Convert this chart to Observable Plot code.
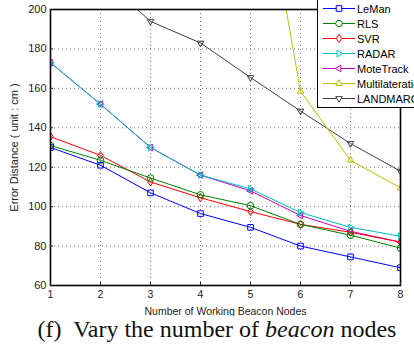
<!DOCTYPE html>
<html>
<head>
<meta charset="utf-8">
<script src="https://cdn.jsdelivr.net/npm/d3@7"></script>
<script src="https://cdn.jsdelivr.net/npm/@observablehq/plot@0.6"></script>
<style>
  html, body { margin: 0; padding: 0; background: white; }
  body { width: 414px; height: 347px; overflow: hidden; position: relative; }
  #chart { position: absolute; left: 0; top: 0; }
  #legend { position: absolute; left: 317px; top: -1px; width: 110px; border: 1px solid black; background: white;
    font-family: "Liberation Sans", Arial, sans-serif; font-size: 11px; padding: 1px 0 1px 0; }
  #legend .row { height: 15px; display: flex; align-items: center; white-space: nowrap; }
  #legend svg { flex: none; }
  #caption { position: absolute; left: 0; top: 316px; width: 434px; text-align: center; line-height: 1.15;
    font-family: "Liberation Serif", "Times New Roman", serif; font-size: 24px; color: #111; white-space: nowrap; }
</style>
</head>
<body>
<div id="chart"></div>
<div id="legend"></div>
<div id="caption">(f)&nbsp; Vary the number of <i>beacon</i> nodes</div>
<script>
// ---- data ----
const beacons = [1, 2, 3, 4, 5, 6, 7, 8];
const leman = [130, 121, 107, 96.5, 89.5, 80, 74.5, 69];
const rls = [131, 123.5, 114.5, 106, 100.5, 91, 85.5, 79];
const svr = [135.5, 126, 112.5, 104.5, 97.5, 91, 87, 82];
const radar = [173, 152, 130, 116, 109, 97, 89.5, 85];
const motetrack = [173, 152, 130, 116, 108, 95.5, 87.5, 82];
const multiBeacons = [5, 6, 7, 8];
const multilateration = [303, 158.5, 123.5, 109.5];
const landmarcBeacons = [2, 3, 4, 5, 6, 7, 8];
const landmarc = [217, 194, 183, 165.5, 148.5, 132, 118];
const xTicks = [1, 2, 3, 4, 5, 6, 7, 8];
const yTicks = [60, 80, 100, 120, 140, 160, 180, 200];
const seriesNames = ["LeMan", "RLS", "SVR", "RADAR", "MoteTrack", "Multilateration", "LANDMARC"];
const seriesColors = ["#0000ff", "#008000", "#ff0000", "#00bfbf", "#bf00bf", "#bfbf00", "#404040"];

// ---- symbols ----
function tri(angle) {
  return {draw(ctx, size) {
    const r = Math.sqrt(size / Math.PI) * 1.15;
    for (let i = 0; i < 3; i++) {
      const a = angle + i * 2 * Math.PI / 3;
      const px = r * Math.cos(a), py = r * Math.sin(a);
      if (i === 0) ctx.moveTo(px, py); else ctx.lineTo(px, py);
    }
    ctx.closePath();
  }};
}
const sqSym = {draw(ctx, size) { const h = Math.sqrt(size / Math.PI) * 0.85; ctx.rect(-h, -h, 2 * h, 2 * h); }};
const circSym = {draw(ctx, size) { const r = Math.sqrt(size / Math.PI); ctx.moveTo(r, 0); ctx.arc(0, 0, r, 0, 2 * Math.PI); }};
const diaSym = {draw(ctx, size) { const r = Math.sqrt(size / Math.PI) * 1.2; const w = r * 0.7;
  ctx.moveTo(0, -r); ctx.lineTo(w, 0); ctx.lineTo(0, r); ctx.lineTo(-w, 0); ctx.closePath(); }};
const seriesSymbols = [sqSym, circSym, diaSym, tri(0), tri(Math.PI), tri(-Math.PI / 2), tri(Math.PI / 2)];

// ---- table ----
const rows = [];
const add = (name, xs, ys) => xs.forEach((x, i) => rows.push({series: name, x, y: ys[i]}));
add("LeMan", beacons, leman);
add("RLS", beacons, rls);
add("SVR", beacons, svr);
add("RADAR", beacons, radar);
add("MoteTrack", beacons, motetrack);
add("Multilateration", multiBeacons, multilateration);
add("LANDMARC", landmarcBeacons, landmarc);

const seriesMarks = [];
for (let k = seriesNames.length - 1; k >= 0; k--) {
  const name = seriesNames[k];
  const data = rows.filter(d => d.series === name);
  seriesMarks.push(Plot.line(data, {x: "x", y: "y", stroke: seriesColors[k], strokeWidth: 1, clip: true}));
  seriesMarks.push(Plot.dot(data, {x: "x", y: "y", stroke: seriesColors[k], fill: "none", strokeWidth: 1,
    symbol: seriesSymbols[k], r: 3.3, clip: true}));
}

const chart = Plot.plot({
  width: 414,
  height: 316,
  marginLeft: 50,
  marginRight: 14,
  marginTop: 9,
  marginBottom: 31,
  style: {fontFamily: "'Liberation Sans', Arial, sans-serif", fontSize: "11px", background: "white", color: "#222"},
  x: {domain: [1, 8], label: null},
  y: {domain: [60, 200], label: null},
  marks: [
    Plot.gridX(xTicks, {stroke: "#777", strokeOpacity: 1, strokeDasharray: "1,3", strokeWidth: 1}),
    Plot.gridY(yTicks, {stroke: "#777", strokeOpacity: 1, strokeDasharray: "1,3", strokeWidth: 1}),
    ...seriesMarks,
    Plot.frame({stroke: "black", strokeWidth: 1.6}),
    Plot.axisX(xTicks, {tickSize: -3, tickPadding: 8, tickFormat: d => d, label: "Number of Working Beacon Nodes",
      labelAnchor: "center", labelOffset: 29, labelArrow: "none", fontSize: 10.5}),
    Plot.axisY(yTicks, {tickSize: -3, tickPadding: 7, tickFormat: d => d, label: "Error Distance ( unit : cm )",
      labelAnchor: "center", labelOffset: 40, labelArrow: "none", fontSize: 11})
  ]
});
document.getElementById("chart").appendChild(chart);

// ---- legend ----
const legend = document.getElementById("legend");
seriesNames.forEach((name, k) => {
  const row = document.createElement("div");
  row.className = "row";
  const s = d3.create("svg").attr("width", 39).attr("height", 15);
  s.append("line").attr("x1", 5).attr("x2", 37).attr("y1", 7.5).attr("y2", 7.5)
    .attr("stroke", seriesColors[k]).attr("stroke-width", 1);
  s.append("path").attr("transform", "translate(21,7.5)")
    .attr("d", d3.symbol(seriesSymbols[k], Math.PI * 3.3 * 3.3)())
    .attr("fill", "white").attr("stroke", seriesColors[k]).attr("stroke-width", 1);
  row.appendChild(s.node());
  const t = document.createElement("span");
  t.textContent = name;
  row.appendChild(t);
  legend.appendChild(row);
});
</script>
</body>
</html>
